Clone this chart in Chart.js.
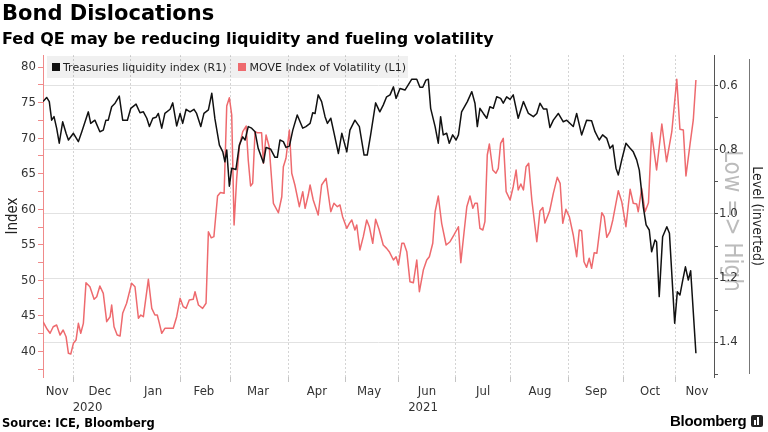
<!DOCTYPE html>
<html><head><meta charset="utf-8">
<script src="https://cdn.jsdelivr.net/npm/chart.js@4.4.0/dist/chart.umd.min.js"></script>
<style>
html,body{margin:0;padding:0;background:#fff;}
#wrap{position:relative;width:768px;height:432px;overflow:hidden;}
#c{position:absolute;left:0;top:0;}
#title{position:absolute;left:2px;top:1px;font:bold 21px "DejaVu Sans",sans-serif;color:#000;white-space:nowrap;}
#sub{position:absolute;left:2px;top:29px;font:bold 16px "DejaVu Sans",sans-serif;color:#000;white-space:nowrap;}
#legend{position:absolute;left:47px;top:56px;width:361px;height:22px;background:rgba(0,0,0,0.06);display:flex;align-items:center;font:11px "DejaVu Sans",sans-serif;color:#222;white-space:nowrap;}
#legend .sw{display:inline-block;width:8px;height:8px;margin:0 3px 0 5px;}
#legend .item{display:flex;align-items:center;margin-right:7px;}
#source{position:absolute;left:2px;top:416px;font:bold 11.5px "DejaVu Sans",sans-serif;color:#000;white-space:nowrap;}
#logo{position:absolute;left:670px;top:412px;font:bold 15px "Liberation Sans",sans-serif;color:#000;white-space:nowrap;letter-spacing:-0.3px;display:flex;align-items:center;}
#logo .ic{display:inline-block;width:12px;height:12px;background:#222;border-radius:2px;margin-left:5px;position:relative;}
#logo .ic i{position:absolute;bottom:2px;width:2px;background:#fff;}
</style></head><body>
<div id="wrap">
<canvas id="c" width="768" height="432"></canvas>
<div id="title">Bond Dislocations</div>
<div id="sub">Fed QE may be reducing liquidity and fueling volatility</div>
<div id="legend"></div>
<div id="source">Source: ICE, Bloomberg</div>
<div id="logo">Bloomberg<span class="ic"><i style="left:3px;height:5px"></i><i style="left:6px;height:8px"></i></span></div>
</div>
<script>
// ---- Data (x = trading-day index from start of series) ----
const liqDays = [0,1.4,2.4,3.3,4.2,5.2,6.2,7.5,8.8,9.7,
11.6,13.5,14.8,17.3,18.2,19.8,21.7,23.0,24.0,24.9,
26.2,27.5,29.1,30.4,32.2,33.5,35.5,37.0,38.3,39.6,
40.6,41.9,43.1,44.0,45.3,46.5,48.5,49.5,51.0,52.3,
53.3,54.6,56.1,57.6,58.6,60.2,61.4,63.1,64.4,65.6,
67.3,68.6,69.4,70.1,71.1,72.0,73.6,74.9,76.2,77.1,
78.3,79.6,80.9,82.1,84.1,85.1,86.9,88.5,89.4,90.4,
91.7,92.7,94.0,95.3,97.0,99.1,100.3,101.9,102.9,103.8,
105.0,106.3,107.6,108.5,109.8,111.0,112.7,114.0,115.9,117.1,
119.0,120.7,122.5,123.7,125.0,126.9,128.5,129.8,131.1,132.4,
133.7,134.7,136.2,138.1,140.7,142.6,143.8,144.9,146.1,147.0,
147.9,149.6,150.8,151.7,152.7,154.0,155.0,156.3,157.6,158.5,
159.7,161.9,163.6,164.8,165.7,166.7,168.0,169.3,170.5,171.8,
173.1,174.6,175.6,176.9,178.2,179.4,181.3,183.3,185.2,187.1,
188.4,189.6,190.9,192.2,193.4,194.7,196.6,198.5,199.8,202.3,
203.6,205.5,207.4,209.3,210.6,212.2,213.5,215.1,216.3,217.4,
218.6,219.5,220.8,222.4,224.0,225.2,226.5,227.5,229.0,230.1,
231.3,232.2,233.5,234.1,235.1,236.4,238.0,239.0,241.0,242.0,
243.0,244.1,245.1,246.2,247.1,249.1];
const liqVals = [0.649,0.636,0.649,0.707,0.696,0.732,0.779,0.712,0.748,0.769,
0.748,0.774,0.743,0.681,0.717,0.707,0.743,0.738,0.707,0.707,
0.665,0.654,0.632,0.707,0.707,0.670,0.657,0.684,0.681,0.701,
0.727,0.701,0.698,0.686,0.732,0.686,0.673,0.653,0.725,0.686,
0.717,0.673,0.681,0.673,0.686,0.727,0.686,0.675,0.623,0.703,
0.785,0.806,0.837,0.800,0.913,0.857,0.861,0.785,0.759,0.769,
0.727,0.732,0.743,0.795,0.840,0.792,0.798,0.823,0.823,0.769,
0.774,0.792,0.788,0.738,0.691,0.732,0.727,0.717,0.684,0.686,
0.628,0.649,0.696,0.717,0.701,0.746,0.811,0.748,0.806,0.738,
0.707,0.727,0.816,0.816,0.753,0.653,0.681,0.660,0.634,0.628,
0.603,0.639,0.608,0.613,0.579,0.579,0.604,0.604,0.582,0.579,
0.670,0.727,0.779,0.696,0.753,0.748,0.779,0.753,0.769,0.753,
0.681,0.649,0.618,0.654,0.727,0.670,0.686,0.701,0.665,0.670,
0.634,0.639,0.654,0.634,0.642,0.628,0.701,0.649,0.686,0.696,
0.686,0.654,0.672,0.672,0.730,0.707,0.686,0.712,0.707,0.727,
0.686,0.753,0.707,0.709,0.743,0.769,0.753,0.764,0.795,0.785,
0.857,0.878,0.831,0.779,0.795,0.806,0.831,0.863,0.977,1.034,
1.050,1.118,1.081,1.087,1.258,1.071,1.040,1.060,1.341,1.243,
1.253,1.206,1.165,1.206,1.177,1.435];

const moveDays = [0,1.6,2.7,3.9,5.2,6.5,7.7,8.8,9.7,10.6,
11.6,12.6,13.5,14.4,15.4,16.4,17.9,19.5,20.5,21.7,
23.0,24.3,25.6,26.2,27.1,28.3,29.4,30.4,31.9,33.8,
35.1,36.4,37.3,38.3,40.2,41.5,42.7,43.6,44.4,45.3,
46.5,48.5,49.7,51.0,52.3,53.5,54.6,55.8,57.3,58.0,
59.3,60.9,62.2,63.1,64.2,65.2,66.6,67.7,69.1,70.1,
71.1,72.0,72.9,73.9,74.9,76.2,77.5,78.3,79.2,80.0,
80.9,81.8,82.8,83.4,84.1,85.1,86.3,87.9,89.8,91.1,
91.7,92.7,94.0,94.9,96.1,97.8,99.1,100.0,101.2,101.9,
103.1,105.0,106.3,108.0,109.8,111.0,112.3,113.3,114.3,115.9,
116.9,117.8,119.0,119.7,120.9,122.2,123.5,124.5,125.8,126.9,
128.2,129.8,131.1,132.1,133.7,134.7,135.6,136.9,137.7,138.8,
140.0,141.3,142.6,143.6,145.1,146.4,147.4,148.7,149.6,150.8,
152.1,153.8,155.3,156.8,158.5,159.4,160.6,161.7,162.9,164.0,
164.8,165.7,166.7,167.8,168.6,169.5,170.3,171.6,172.8,173.7,
174.6,175.6,176.7,178.2,179.4,180.5,181.3,182.3,183.3,184.3,
185.3,186.5,188.4,189.6,190.7,191.5,193.3,194.7,196.2,197.3,
198.3,199.5,200.8,202.3,203.6,204.6,205.5,206.4,207.4,208.4,
209.3,210.3,211.3,213.2,214.1,215.1,216.3,217.4,219.5,220.8,
222.4,224.0,225.2,226.5,227.1,228.4,229.7,231.0,232.2,234.1,
236.1,237.9,239.9,241.8,243.0,244.3,245.3,246.9,248.1,249.1];
const moveVals = [44.18,43.11,42.55,43.47,43.71,42.31,43.01,42.07,39.73,39.63,
41.14,41.60,43.95,42.55,43.95,49.67,49.10,47.33,47.70,49.20,
48.17,44.18,44.88,46.53,43.47,42.31,42.17,45.36,46.77,49.58,
49.10,44.66,45.12,44.88,50.14,46.06,45.12,45.12,43.95,42.55,
43.25,43.25,43.25,44.88,47.47,46.29,46.06,47.23,47.33,48.40,
46.53,46.06,46.77,56.84,55.98,56.14,61.86,62.36,62.24,74.52,
75.69,73.26,57.78,64.35,68.80,70.91,71.71,66.93,63.27,63.65,
70.91,70.77,70.77,70.77,66.46,70.44,68.80,60.84,59.51,61.76,
65.98,67.17,71.15,65.06,63.41,60.36,62.47,60.13,62.00,63.41,
61.30,59.19,63.41,64.35,59.65,60.84,60.36,60.60,58.95,57.32,
58.02,58.49,57.08,57.78,54.27,56.14,58.49,57.54,55.21,58.58,
57.18,54.97,54.50,54.03,52.86,53.32,52.16,55.21,55.21,54.03,
49.81,49.67,52.86,48.40,51.45,52.86,53.32,55.21,59.65,61.86,
58.02,54.97,55.43,56.38,57.54,52.48,56.62,60.36,61.86,60.13,
60.84,60.84,57.32,57.08,58.25,67.63,69.18,65.52,65.06,65.76,
69.28,69.98,62.47,61.30,63.17,65.52,62.71,63.55,62.71,65.98,
66.46,61.30,55.43,59.75,60.24,58.06,59.75,62.24,64.49,63.65,
58.02,59.99,58.95,56.38,53.32,57.08,56.98,52.62,51.83,53.10,
51.69,53.89,53.80,59.51,58.95,56.05,56.84,58.49,62.61,61.06,
57.54,62.81,60.84,60.74,59.65,62.95,59.65,60.92,70.77,65.52,
71.99,66.69,70.91,78.28,71.25,71.15,64.68,69.28,72.56,78.18];

// ---- Axis ticks / labels ----
const monthBounds   = [11.5,33.5,52.5,71.5,93.5,115.5,135.5,157.5,178.5,200.5,221.5,241.5];
const monthLabels   = ['Nov','Dec','Jan','Feb','Mar','Apr','May','Jun','Jul','Aug','Sep','Oct','Nov'];
const monthLabelPos = [5.4,21.7,42,61.4,82,104.5,124.4,146.5,167.9,189.6,211,231.6,249.5];
const yearLabels    = ['2020','2021'];
const yearLabelPos  = [17,145];
const leftTicks  = [37.5,40,42.5,45,47.5,50,52.5,55,57.5,60,62.5,65,67.5,70,72.5,75,77.5,80];
const rightTicks = [0.6,0.7,0.8,0.9,1.0,1.1,1.2,1.3,1.4,1.5];
const rightLabels= ['0.6','','0.8','','1.0','','1.2','','1.4',''];

const LIQ_LABEL = 'Treasuries liquidity index (R1)';
const MOVE_LABEL = 'MOVE Index of Volatility (L1)';
const LIQ_COLOR = '#111111';
const MOVE_COLOR = '#ee6a6e';

const xTicks = [...monthBounds, ...monthLabelPos, ...yearLabelPos].sort((a,b)=>a-b);
const tickFont = {family:'"DejaVu Sans Condensed","Liberation Sans",sans-serif', size:13};

const extras = {
  id:'extras',
  beforeDraw(chart){
    const {ctx, chartArea:a} = chart;
    ctx.save();
    ctx.fillStyle = '#bcbcbc';
    ctx.font = '24px "DejaVu Sans Condensed","DejaVu Sans",sans-serif';
    ctx.translate(a.right + 17, (a.top + a.bottom)/2 + 5);
    ctx.rotate(Math.PI/2);
    ctx.textAlign = 'center'; ctx.textBaseline = 'middle';
    ctx.fillText('Low => High', 0, 0);
    ctx.restore();
    ctx.save();
    ctx.strokeStyle = '#777'; ctx.lineWidth = 1;
    ctx.beginPath(); ctx.moveTo(a.right + 35.5, a.top + 4); ctx.lineTo(a.right + 35.5, a.bottom - 3); ctx.stroke();
    ctx.restore();
  }
};

const chart = new Chart(document.getElementById('c'), {
  type:'line',
  data:{ datasets:[
    {label:LIQ_LABEL, yAxisID:'yR', borderColor:LIQ_COLOR, borderWidth:1.5,
     data: liqDays.map((d,i)=>({x:d, y:liqVals[i]}))},
    {label:MOVE_LABEL, yAxisID:'yL', borderColor:MOVE_COLOR, borderWidth:1.5,
     data: moveDays.map((d,i)=>({x:d, y:moveVals[i]}))}
  ]},
  options:{
    responsive:false, animation:false, devicePixelRatio:1,
    layout:{padding:{top:55,left:0,right:0,bottom:0}, autoPadding:false},
    elements:{point:{radius:0}, line:{tension:0, borderJoinStyle:'round'}},
    plugins:{legend:{display:false}, tooltip:{enabled:false}},
    scales:{
      x:{type:'linear', position:'bottom', min:0, max:256,
        afterBuildTicks:s=>{ s.ticks = xTicks.map(v=>({value:v})); },
        afterFit:s=>{ s.height = 55; },
        grid:{drawOnChartArea:true, tickLength:5, lineWidth:1,
          color:c=> (c.tick && monthBounds.includes(c.tick.value)) ? '#d4d4d4' : 'rgba(0,0,0,0)',
          tickColor:c=> (c.tick && monthBounds.includes(c.tick.value)) ? '#c4c4c4' : 'rgba(0,0,0,0)'},
        border:{display:false, dash:[2,2]},
        ticks:{autoSkip:false, maxRotation:0, minRotation:0, padding:2, color:'#333', font:tickFont,
          callback:v=>{ let i = monthLabelPos.indexOf(v); if(i>=0) return monthLabels[i];
            i = yearLabelPos.indexOf(v); if(i>=0) return ['', yearLabels[i]]; return ''; }}
      },
      yL:{type:'linear', position:'left', min:36.4, max:81.7,
        afterBuildTicks:s=>{ s.ticks = leftTicks.map(v=>({value:v})); },
        afterFit:s=>{ s.width = 43; },
        grid:{drawOnChartArea:false, tickLength:5, tickColor:'#f08a8a'},
        border:{color:'#f08a8a'},
        ticks:{padding:2, color:'#333', font:tickFont, callback:v=> (v % 5 === 0) ? String(v) : ''},
        title:{display:true, text:'Index', color:'#222', font:{family:'"DejaVu Sans Condensed","Liberation Sans",sans-serif', size:15}, padding:{top:4,bottom:0}}
      },
      yR:{type:'linear', position:'right', reverse:true, min:0.5035, max:1.509,
        afterBuildTicks:s=>{ s.ticks = rightTicks.map(v=>({value:v})); },
        afterFit:s=>{ s.width = 54; },
        grid:{drawOnChartArea:true, tickLength:4, tickColor:'#555',
          color:c=> rightLabels[c.index] ? '#e2e2e2' : 'rgba(0,0,0,0)'},
        border:{color:'#555'},
        ticks:{padding:1, color:'#333', font:tickFont, callback:(v,i)=> rightLabels[i]},
        title:{display:true, text:'Level (inverted)', color:'#222', font:{family:'"DejaVu Sans Condensed","Liberation Sans",sans-serif', size:14}, padding:{top:3,bottom:0}}
      }
    }
  },
  plugins:[extras]
});

// HTML legend built from the datasets
const leg = document.getElementById('legend');
chart.data.datasets.forEach(ds=>{
  const it = document.createElement('span'); it.className='item';
  const sw = document.createElement('span'); sw.className='sw'; sw.style.background = ds.borderColor;
  const tx = document.createElement('span'); tx.textContent = ds.label;
  it.appendChild(sw); it.appendChild(tx); leg.appendChild(it);
});
</script>
</body></html>
